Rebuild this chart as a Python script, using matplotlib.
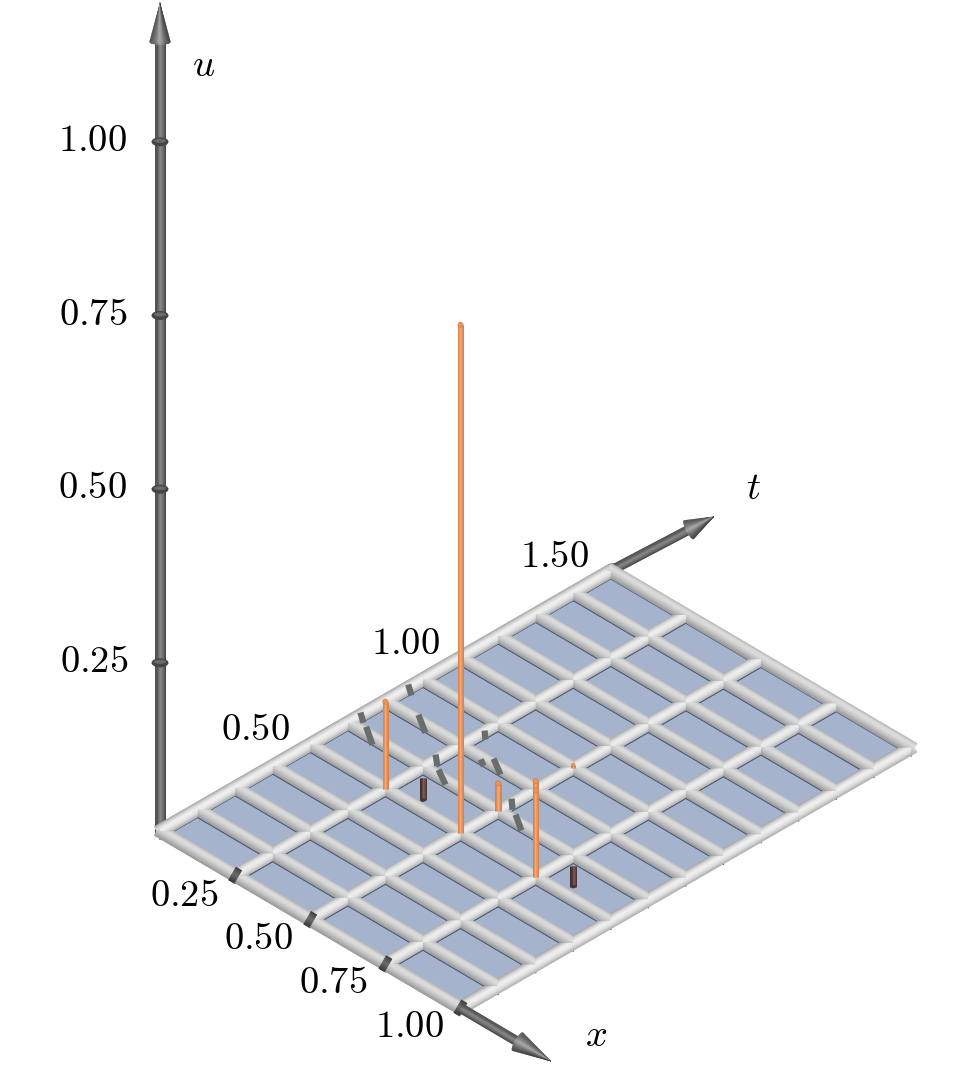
#!/usr/bin/env python
"""Sparse solution spikes over a space-time grid, drawn in oblique projection."""
import numpy as np
import matplotlib
matplotlib.use("Agg")
import matplotlib.pyplot as plt
from matplotlib.collections import LineCollection, PolyCollection
from matplotlib.colors import LinearSegmentedColormap
from matplotlib.patches import Polygon, Ellipse, Circle

plt.rcParams['mathtext.fontset'] = 'cm'

# grid
x_grid = [0.0, 0.25, 0.5, 0.75, 1.0]
t_grid = [0.0, 0.125, 0.25, 0.375, 0.5, 0.625, 0.75, 0.875, 1.0, 1.125, 1.25, 1.375, 1.5]

# axis ticks
u_ticks = [0.25, 0.5, 0.75, 1.0]
u_labels = ['0.25', '0.50', '0.75', '1.00']
x_ticks = [0.25, 0.5, 0.75, 1.0]
x_labels = ['0.25', '0.50', '0.75', '1.00']
t_ticks = [0.5, 1.0, 1.5]
t_labels = ['0.50', '1.00', '1.50']

# positive spikes
pos_x = [0.5, 0.25, 0.5, 0.5, 0.75, 0.5]
pos_t = [0.75, 0.5, 0.5, 0.625, 0.5, 0.875]
pos_u = [0.012, 0.125, 0.731, 0.04, 0.125, 0.004]

# negative spikes
neg_x = [0.25, 0.75]
neg_t = [0.625, 0.625]
neg_u = [-0.048, -0.045]

# shadow bands on the bars
shadow_x0 = [-0.009, -0.008, 0.042, 0.094, 0.236, 0.284, 0.248, 0.324, 0.343, 0.487, 0.539]
shadow_t0 = [0.835, 0.675, 0.644, 0.766, 0.681, 0.643, 0.832, 0.743, 0.767, 0.683, 0.644]
shadow_x1 = [0.028, 0.026, 0.104, 0.157, 0.271, 0.338, 0.275, 0.347, 0.400, 0.520, 0.594]
shadow_t1 = [0.809, 0.651, 0.603, 0.726, 0.652, 0.612, 0.808, 0.730, 0.733, 0.653, 0.609]

ORIGIN = np.array([160.0, 831.0])
E_X = np.array([300.5, 177.0])
E_T = np.array([300.5, -173.5])
E_U = np.array([0.0, -694.7])


def proj(x, t, u=0.0):
    return ORIGIN + x * E_X + t * E_T + u * E_U


def tube(ax, p0, p1, width, stops, z, clip=None):
    """Fake a shaded cylinder with thin parallel strokes across its width."""
    p0 = np.asarray(p0, float)
    p1 = np.asarray(p1, float)
    d = (p1 - p0) / np.linalg.norm(p1 - p0)
    normal = np.array([-d[1], d[0]])
    cmap = LinearSegmentedColormap.from_list('s', stops)
    n = max(int(width * 2), 5)
    offs = np.linspace(-width / 2, width / 2, n)
    lw = (width / n + 0.5) * 0.72
    segs = [[p0 + normal * o, p1 + normal * o] for o in offs]
    cols = [cmap(k / (n - 1)) for k in range(n)]
    lc = LineCollection(segs, colors=cols, linewidths=lw, capstyle='butt', zorder=z)
    ax.add_collection(lc)
    if clip is not None:
        patch = Polygon(clip, closed=True, transform=ax.transData)
        lc.set_clip_path(patch)


def cone(ax, base, tip, radius, z):
    """Arrow head as a fan of shaded triangles."""
    base = np.asarray(base, float)
    tip = np.asarray(tip, float)
    d = (tip - base) / np.linalg.norm(tip - base)
    normal = np.array([-d[1], d[0]])
    cmap = LinearSegmentedColormap.from_list('c', ['#4a4a4a', '#6e6e6e', '#a8a8a8', '#6a6a6a', '#3c3c3c'])
    edges = np.linspace(-1, 1, 25)
    polys = []
    cols = []
    for a, b in zip(edges[:-1], edges[1:]):
        sag = 2.5
        pa = base + normal * a * radius - d * sag * np.sqrt(1 - a * a)
        pb = base + normal * b * radius - d * sag * np.sqrt(1 - b * b)
        polys.append([pa, pb, tip])
        cols.append(cmap((a + b + 2) / 4))
    ax.add_collection(PolyCollection(polys, facecolors=cols, edgecolors=cols, linewidths=0.3, zorder=z))


AXIS_STOPS = ['#4e4e4e', '#5a5a5a', '#858585', '#707070', '#484848']
COLLAR = ['#3e3e3e', '#565656', '#6a6a6a', '#505050', '#3a3a3a']
X_BAR = ['#b8b8b8', '#dadada', '#dcdcdc', '#cacaca', '#b4b4b4', '#9c9c9c']
T_BAR = ['#a8a8a8', '#d6d6d6', '#f0f0f0', '#ececec', '#d8d8d8', '#b4b4b4']
ORANGE = ['#d5844f', '#e8935a', '#f4b088', '#e8935a', '#d5844f']
BROWN = ['#4a3534', '#6a4c4a', '#7a5a58', '#5a4040', '#3e2c2c']
BAR_W = 13.0
EXT = 3.0

fig = plt.figure(figsize=(9.6, 10.8), dpi=100)
ax = fig.add_axes([0, 0, 1, 1])
ax.set_xlim(0, 960)
ax.set_ylim(1080, 0)
ax.axis('off')

# plane
ax.add_patch(Polygon([proj(0, 0), proj(1, 0), proj(1, 1.5), proj(0, 1.5)], closed=True,
                     facecolor='#a6b3cd', edgecolor='none', zorder=1))

# thin dark edge that the bars leave on the plane
for t in t_grid[1:]:
    a, b = proj(0, t), proj(1, t)
    ax.plot([a[0], b[0]], [a[1] + 8, b[1] + 8], color='#4d5b78', lw=1.1, zorder=1.5)
for x in x_grid[:-1]:
    a, b = proj(x, 0), proj(x, 1.5)
    ax.plot([a[0], b[0]], [a[1] + 8, b[1] + 8], color='#4d5b78', lw=1.1, zorder=1.5)

# negative spikes hang under the plane
for x, t, u in zip(neg_x, neg_t, neg_u):
    low = proj(x, t, u)
    high = proj(x, t, -0.016)
    tube(ax, high, low, 5.5, BROWN, 2)
    ax.add_patch(Ellipse(low, 5.5, 3.5, facecolor='#4a3534', edgecolor='none', zorder=2))

# outer bars run unclipped under the mitred pieces
dir_x = E_X / np.linalg.norm(E_X)
dir_t = E_T / np.linalg.norm(E_T)
for x in (x_grid[0], x_grid[-1]):
    tube(ax, proj(x, 0) - dir_t * EXT, proj(x, 1.5) + dir_t * EXT, BAR_W, T_BAR, 2.9)
for t in (t_grid[0], t_grid[-1]):
    tube(ax, proj(0, t) - dir_x * EXT, proj(1, t) + dir_x * EXT, BAR_W, X_BAR, 2.9)

# inner pieces are mitred along the diagonals of each crossing
r = BAR_W / 2 / 0.87
right = r * (dir_x + dir_t)
top = r * (dir_t - dir_x)
for t in t_grid:
    for x0, x1 in zip(x_grid[:-1], x_grid[1:]):
        p, q = proj(x0, t), proj(x1, t)
        clip = [p, p + right, q + top, q, q - right, p - top]
        tube(ax, p, q, BAR_W, X_BAR, 3, clip=clip)
for x in x_grid:
    for t0, t1 in zip(t_grid[:-1], t_grid[1:]):
        p, q = proj(x, t0), proj(x, t1)
        clip = [p, p + right, q - top, q, q - right, p + top]
        tube(ax, p, q, BAR_W, T_BAR, 3, clip=clip)

# shadow bands
for x0, t0, x1, t1 in zip(shadow_x0, shadow_t0, shadow_x1, shadow_t1):
    a, b = proj(x0, t0), proj(x1, t1)
    ax.plot([a[0], b[0]], [a[1], b[1]], color='#6a6d6d', lw=4.5, solid_capstyle='butt', zorder=5)

# axes
axis_w = 10.5
u_end = np.array([ORIGIN[0], 42.0])
tube(ax, ORIGIN + [0, 3], u_end, axis_w, AXIS_STOPS, 2.5)
cone(ax, u_end, [ORIGIN[0], 3.0], 10.5, 7)

x_base = proj(1, 0)
x_end = x_base + E_X * 0.19
tube(ax, x_base, x_end, 9.0, AXIS_STOPS, 6)
cone(ax, x_end, x_base + E_X * 0.30, 10.5, 7)

t_base = proj(0, 1.5)
t_end = t_base + np.array([78.0, -41.0])
tube(ax, t_base, t_end, 9.0, AXIS_STOPS, 2.5)
cone(ax, t_end, t_base + np.array([103.0, -54.0]), 10.5, 7)

# tick collars
for u in u_ticks:
    c = np.array([ORIGIN[0], 836.5]) + u * E_U
    ax.add_patch(Ellipse(c, 17, 9, facecolor='#454545', edgecolor='none', zorder=8))
    ax.add_patch(Ellipse(c - [0, 1], 12, 4, facecolor='#6a6a6a', edgecolor='none', zorder=8))
for x in x_ticks:
    tube(ax, proj(x - 0.01, 0), proj(x + 0.01, 0), 14.5, COLLAR, 5)
for t in t_ticks:
    c = proj(0, t)
    ax.add_patch(Ellipse(c + [-1, -4], 11, 5, angle=-30, facecolor='#4a4a4a', edgecolor='none', zorder=2.8))

# positive spikes
for x, t, u in zip(pos_x, pos_t, pos_u):
    low = proj(x, t)
    high = proj(x, t, u)
    w = 5.2 if u > 0.01 else 3.5
    tube(ax, low, high, w, ORANGE, 9)
    ax.add_patch(Circle(high, w / 2, facecolor='#e8935a', edgecolor='#d5844f', lw=0.5, zorder=9))

# labels
label_kw = dict(ha='center', va='center', fontsize=27.8, color='black', zorder=10)
u_pos = [(94, 661), (93, 487), (93, 314), (93, 140)]
for (px, py), s in zip(u_pos, u_labels):
    ax.text(px, py, f'${s}$', **label_kw)
x_pos = [(184, 895), (259, 938), (333, 982), (410, 1026)]
for (px, py), s in zip(x_pos, x_labels):
    ax.text(px, py, f'${s}$', **label_kw)
t_pos = [(256, 729), (406, 643), (555, 556)]
for (px, py), s in zip(t_pos, t_labels):
    ax.text(px, py, f'${s}$', **label_kw)
ax.text(204, 65, '$u$', **label_kw)
ax.text(753, 488, '$t$', **label_kw)
ax.text(596, 1035, '$x$', **label_kw)

fig.savefig('out.png', dpi=100, facecolor='white')
